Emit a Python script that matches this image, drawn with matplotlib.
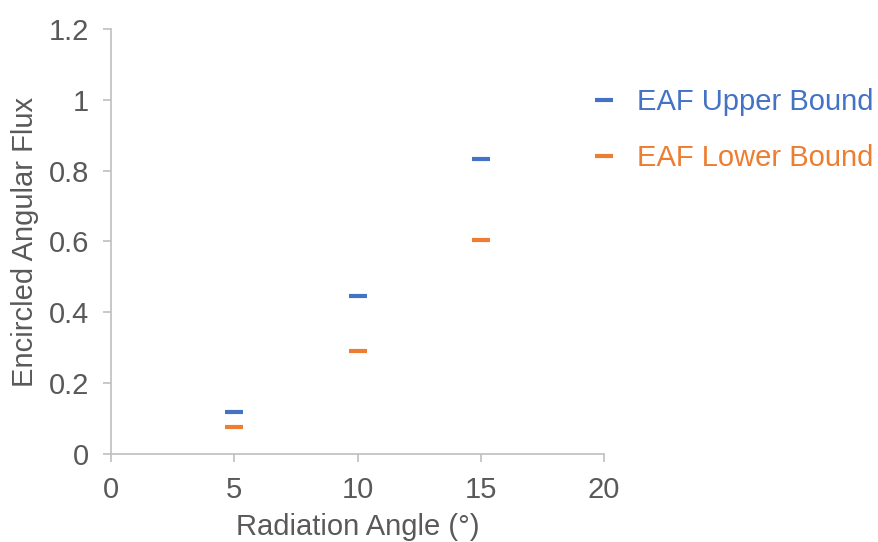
import matplotlib
matplotlib.use("Agg")
import matplotlib.pyplot as plt

# Encircled angular flux bounds at each radiation angle
angles = [5, 10, 15]
eaf_upper = [0.119, 0.445, 0.833]
eaf_lower = [0.075, 0.291, 0.605]

x_ticks = [0, 5, 10, 15, 20]
y_ticks = [0, 0.2, 0.4, 0.6, 0.8, 1.0, 1.2]
y_tick_labels = ["0", "0.2", "0.4", "0.6", "0.8", "1", "1.2"]

BLUE = "#4472C4"
ORANGE = "#ED7D31"
TEXT = "#595959"
AXIS = "#BFBFBF"
FS = 21

plt.rcParams["font.family"] = ["Liberation Sans", "DejaVu Sans"]

fig = plt.figure(figsize=(8.79, 5.42), dpi=100)
ax = fig.add_axes([0.1263, 0.1624, 0.5609, 0.7841])

ax.plot(angles, eaf_upper, linestyle="none", marker="_", markersize=13,
        markeredgewidth=3, color=BLUE, label="EAF Upper Bound", clip_on=False)
ax.plot(angles, eaf_lower, linestyle="none", marker="_", markersize=13,
        markeredgewidth=3, color=ORANGE, label="EAF Lower Bound", clip_on=False)

ax.set_xlim(0, 20)
ax.set_ylim(0, 1.2)
ax.set_xticks(x_ticks)
ax.set_yticks(y_ticks)
ax.set_yticklabels(y_tick_labels)

for side in ["top", "right"]:
    ax.spines[side].set_visible(False)
for side in ["left", "bottom"]:
    ax.spines[side].set_color(AXIS)
    ax.spines[side].set_linewidth(1.2)

ax.tick_params(axis="both", colors=AXIS, length=6, width=1.2, labelsize=FS,
               labelcolor=TEXT)
ax.tick_params(axis="x", pad=10)
ax.tick_params(axis="y", pad=10)

ax.set_xlabel("Radiation Angle (°)", fontsize=FS, color=TEXT, labelpad=6)
ax.set_ylabel("Encircled Angular Flux", fontsize=FS, color=TEXT, labelpad=7)

ax.legend(loc="upper left", bbox_to_anchor=(0.649, 0.875),
          bbox_transform=fig.transFigure, frameon=False, fontsize=FS,
          labelcolor="linecolor", handlelength=0.9, handletextpad=0.67,
          labelspacing=0.95, borderpad=0.2)

fig.savefig("out.png", dpi=100, facecolor="white")
